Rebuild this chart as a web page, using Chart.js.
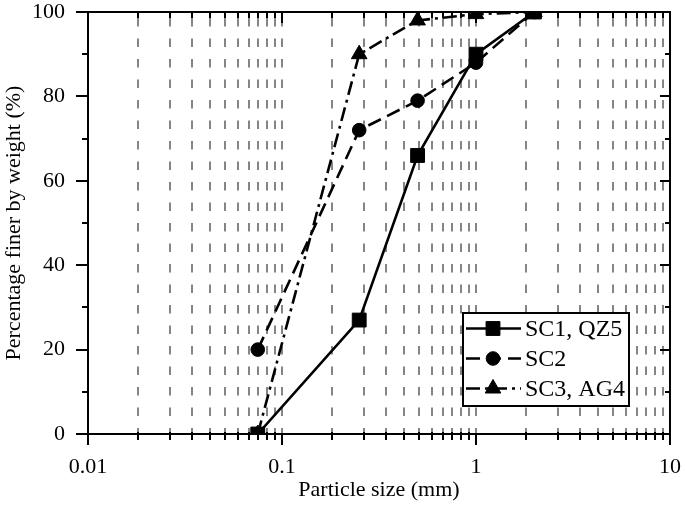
<!DOCTYPE html>
<html>
<head>
<meta charset="utf-8">
<script src="https://cdn.jsdelivr.net/npm/chart.js@4.4.0/dist/chart.umd.min.js"></script>
<style>
  html, body { margin: 0; padding: 0; background: #fff; }
  #wrap { width: 685px; height: 509px; }
</style>
</head>
<body>
<div id="wrap"><canvas id="chart"></canvas></div>
<script>
// Grain size distribution data
const sizes = [0.075, 0.25, 0.5, 1, 2];
const sc1 = [0, 27, 66, 90, 100];
const sc2 = [20, 72, 79, 88, 100];
const sc3 = [0, 90, 98, 99.5, 100];
const seriesNames = ['SC1, QZ5', 'SC2', 'SC3, AG4'];
const decades = [0.01, 0.1, 1, 10];
const yTickValues = [0, 10, 20, 30, 40, 50, 60, 70, 80, 90, 100];

const FONT = "'Liberation Serif', 'Times New Roman', serif";

// Origin style minor ticks: 10 evenly spaced minors inside each decade
const xTicks = [];
decades.forEach((d, i) => {
  xTicks.push(d);
  if (i < decades.length - 1) {
    for (let k = 1; k <= 10; k++) xTicks.push(d + k * 9 * d / 11);
  }
});
const isMajor = v => decades.some(d => Math.abs(v - d) / d < 1e-6);

function makeSet(label, ys, style, radius, dash) {
  return {
    label: label,
    data: sizes.map((x, i) => ({ x: x, y: ys[i] })),
    borderColor: '#000',
    backgroundColor: '#000',
    borderWidth: 2.6,
    borderDash: dash,
    pointStyle: style,
    pointRadius: radius,
    pointHoverRadius: radius,
    pointBorderWidth: 1,
    tension: 0
  };
}

const datasets = [
  makeSet(seriesNames[0], sc1, 'rect', 9.8, []),
  makeSet(seriesNames[1], sc2, 'circle', 6.8, [14, 7]),
  makeSet(seriesNames[2], sc3, 'triangle', 9, [14, 5, 3, 5])
];

// frame, tick marks and boxed legend
const framePlugin = {
  id: 'frame',
  afterDatasetsDraw(chart) {
    const ctx = chart.ctx;
    const a = chart.chartArea;
    const xs = chart.scales.x, ys = chart.scales.y;
    ctx.save();
    ctx.strokeStyle = '#000';
    ctx.lineWidth = 2;
    ctx.setLineDash([]);
    ctx.beginPath();
    xTicks.forEach(v => {
      const px = Math.round(xs.getPixelForValue(v));
      const big = isMajor(v);
      // bottom (outward)
      ctx.moveTo(px, a.bottom - (big ? 1 : 2));
      ctx.lineTo(px, a.bottom + (big ? 11 : 6));
      // top (inward)
      ctx.moveTo(px, a.top);
      ctx.lineTo(px, a.top + (big ? 11 : 6));
    });
    yTickValues.forEach(v => {
      const py = Math.round(ys.getPixelForValue(v));
      const big = v % 20 === 0;
      ctx.moveTo(a.left, py);
      ctx.lineTo(a.left - (big ? 12 : 6), py);
      ctx.moveTo(a.right, py);
      ctx.lineTo(a.right - (big ? 10 : 5), py);
    });
    ctx.stroke();
    ctx.strokeRect(a.left, a.top, a.right - a.left, a.bottom - a.top);

    // legend
    const lx = 463, ly = 313, lw = 166, lh = 93;
    ctx.fillStyle = '#fff';
    ctx.fillRect(lx, ly, lw, lh);
    ctx.strokeRect(lx, ly, lw, lh);
    ctx.font = '24px ' + FONT;
    ctx.textBaseline = 'middle';
    chart.data.datasets.forEach((ds, i) => {
      const cy = ly + 15.5 + i * 30;
      ctx.strokeStyle = '#000';
      ctx.fillStyle = '#000';
      ctx.lineWidth = ds.borderWidth;
      ctx.setLineDash(ds.borderDash);
      ctx.beginPath();
      ctx.moveTo(466, cy);
      ctx.lineTo(521, cy);
      ctx.stroke();
      ctx.setLineDash([]);
      ctx.lineWidth = 1;
      Chart.helpers.drawPoint(ctx, {
        pointStyle: ds.pointStyle, radius: ds.pointRadius, rotation: 0, borderWidth: 1
      }, 493, cy);
      ctx.fillStyle = '#000';
      ctx.fillText(ds.label, 525, cy + 1);
    });
    ctx.restore();
  }
};

new Chart(document.getElementById('chart'), {
  type: 'line',
  data: { datasets: datasets },
  options: {
    responsive: true,
    maintainAspectRatio: false,
    animation: false,
    events: [],
    layout: { padding: { top: 12, right: 15, left: 0, bottom: 0 } },
    plugins: { legend: { display: false }, tooltip: { enabled: false } },
    scales: {
      x: {
        type: 'logarithmic',
        min: 0.01,
        max: 10,
        afterBuildTicks: s => { s.ticks = xTicks.map(v => ({ value: v })); },
        afterFit: s => { s.height = 75; s.paddingLeft = 0; s.paddingRight = 0; },
        ticks: {
          autoSkip: false,
          maxRotation: 0,
          padding: 20,
          color: '#000',
          font: { family: FONT, size: 22 },
          callback: v => isMajor(v) ? String(+v.toPrecision(3)) : ''
        },
        grid: {
          drawTicks: false,
          lineWidth: 2,
          color: c => (c.tick && (Math.abs(c.tick.value - 0.01) < 1e-9 || Math.abs(c.tick.value - 10) < 1e-6)) ? 'rgba(0,0,0,0)' : '#858585'
        },
        border: { display: false, dash: [8.5, 12], dashOffset: 14.5 },
        title: {
          display: true,
          text: 'Particle size (mm)',
          color: '#000',
          font: { family: FONT, size: 22 },
          padding: { top: 0, bottom: 6 }
        }
      },
      y: {
        min: 0,
        max: 100,
        afterFit: s => { s.width = 88; s.paddingTop = 0; s.paddingBottom = 0; },
        ticks: {
          stepSize: 20,
          padding: 23,
          color: '#000',
          font: { family: FONT, size: 22 }
        },
        grid: { display: false, drawTicks: false },
        border: { display: false },
        title: {
          display: true,
          text: 'Percentage finer by weight (%)',
          color: '#000',
          font: { family: FONT, size: 22 },
          padding: { top: 1, bottom: 0 }
        }
      }
    }
  },
  plugins: [framePlugin]
});
</script>
</body>
</html>
